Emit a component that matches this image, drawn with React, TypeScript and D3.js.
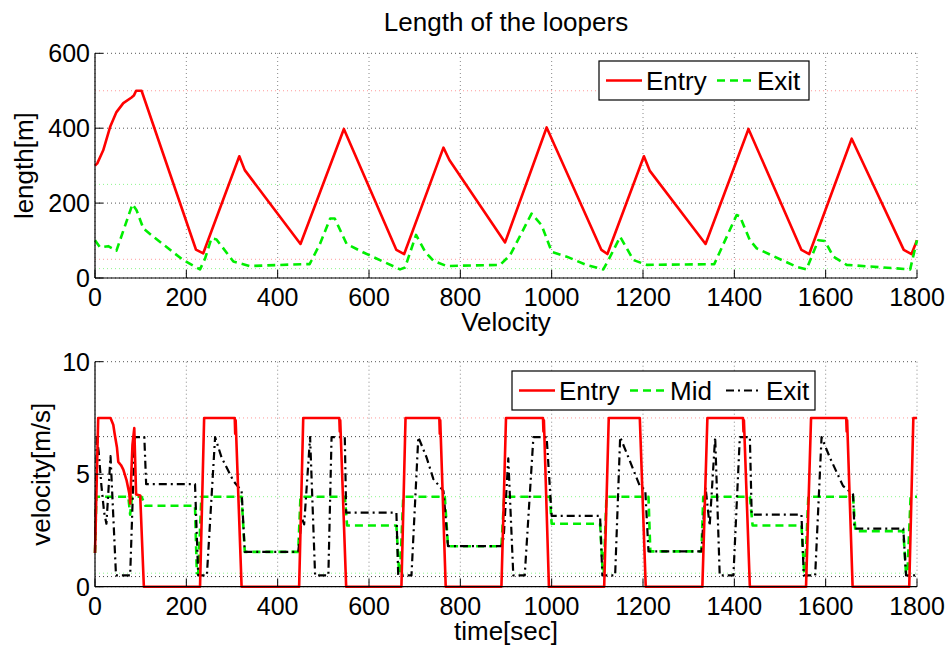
import React, { useEffect, useRef } from "react";
import * as d3 from "d3";

// top panel: looper length [m] vs time
const lenEntry: [number, number][] = [
  [0, 300], [5, 306], [18, 341], [33, 403], [47, 443], [62, 467], [80, 482], [85, 487],
  [90, 500], [102, 500], [221, 76], [237, 66], [316, 325], [328, 288], [450, 91],
  [545, 398], [660, 75], [677, 64], [763, 348], [776, 315], [898, 95], [989, 402],
  [1109, 75], [1122, 64], [1202, 325], [1215, 286], [1337, 91], [1431, 398],
  [1547, 75], [1564, 64], [1657, 372], [1771, 75], [1788, 64], [1800, 101],
];

const lenExit: [number, number][] = [
  [0, 101], [11, 82], [29, 85], [47, 73], [82, 197], [91, 181], [106, 132], [128, 110],
  [193, 48], [230, 23], [241, 52], [255, 106], [266, 103], [303, 44], [339, 32],
  [456, 37], [470, 37], [493, 92], [515, 159], [525, 159], [551, 91], [588, 68],
  [668, 23], [679, 28], [703, 115], [723, 70], [741, 46], [770, 32], [887, 35],
  [909, 61], [956, 172], [978, 141], [1000, 70], [1033, 57], [1076, 35], [1113, 23],
  [1126, 52], [1150, 110], [1179, 48], [1208, 35], [1356, 37], [1405, 168],
  [1412, 165], [1434, 101], [1449, 79], [1536, 30], [1558, 23], [1584, 101],
  [1598, 99], [1617, 57], [1646, 35], [1785, 23], [1800, 101],
];

// bottom panel: velocity [m/s] vs time
const velEntry: [number, number][] = [
  [0, 1.5], [7, 7.5], [34, 7.5], [40, 7.2], [43, 6.8], [48, 6.2], [51, 5.55], [57, 5.4],
  [62, 5.2], [69, 4.74], [75, 4.15], [77, 3.7], [82, 6.3], [86, 7.05], [90, 4.1],
  [99, 4.05], [107, 0], [230, 0], [239, 7.5], [306, 7.5], [307, 6.8], [308, 7.4],
  [321, 0], [447, 0], [456, 7.5], [535, 7.5], [536, 6.9], [537, 7.4], [550, 0],
  [671, 0], [680, 7.5], [754, 7.5], [755, 6.8], [756, 7.4], [768, 0], [890, 0],
  [900, 7.5], [981, 7.5], [982, 6.9], [983, 7.4], [994, 0], [1115, 0], [1125, 7.5],
  [1193, 7.5], [1206, 0], [1330, 0], [1341, 7.5], [1419, 7.5], [1420, 6.9],
  [1421, 7.4], [1434, 0], [1557, 0], [1568, 7.5], [1645, 7.5], [1646, 6.9],
  [1647, 7.4], [1659, 0], [1783, 0], [1792, 7.5], [1800, 7.5],
];

const velMid: [number, number][] = [
  [0, 1.5], [3, 4], [73, 4], [77, 3.2], [81, 4], [102, 4], [110, 3.6], [219, 3.6],
  [223, 0.6], [226, 0.6], [233, 4], [321, 4], [328, 1.55], [445, 1.55], [450, 4],
  [547, 4], [552, 2.72], [660, 2.72], [666, 0.6], [668, 0.6], [675, 4], [766, 4],
  [773, 1.8], [890, 1.8], [896, 4], [996, 4], [1000, 2.8], [1106, 2.8], [1112, 0.6],
  [1114, 0.6], [1120, 4], [1212, 4], [1216, 1.57], [1328, 1.57], [1332, 4], [1434, 4],
  [1440, 2.72], [1547, 2.72], [1553, 0.6], [1555, 0.6], [1562, 4], [1660, 4],
  [1665, 2.47], [1770, 2.47], [1776, 0.6], [1779, 0.6], [1786, 4], [1800, 4],
];

const velExit: [number, number][] = [
  [0, 1.5], [4, 6.65], [8, 6.0], [14, 4.5], [20, 3.3], [25, 2.8], [34, 5.8], [46, 0.5],
  [77, 0.5], [87, 6.65], [108, 6.65], [112, 4.56], [219, 4.56], [226, 0.5], [245, 0.5],
  [263, 6.65], [277, 5.75], [303, 4.7], [321, 4.26], [328, 1.55], [445, 1.55],
  [453, 3.06], [458, 2.77], [471, 6.65], [482, 0.5], [511, 0.5], [518, 6.65],
  [547, 6.65], [550, 3.29], [660, 3.29], [664, 0.5], [693, 0.5], [708, 6.65],
  [726, 5.75], [741, 4.78], [763, 4.26], [773, 1.8], [890, 1.8], [895, 2.2],
  [905, 5.7], [916, 0.5], [941, 0.5], [960, 6.65], [989, 6.65], [1000, 3.15],
  [1106, 3.15], [1111, 0.5], [1139, 0.5], [1150, 6.65], [1171, 5.6], [1193, 4.48],
  [1205, 4.3], [1212, 1.57], [1328, 1.57], [1337, 4.4], [1346, 2.7], [1358, 6.65],
  [1368, 0.5], [1398, 0.5], [1412, 6.65], [1434, 6.65], [1438, 3.2], [1547, 3.2],
  [1552, 0.5], [1577, 0.5], [1591, 6.65], [1609, 5.75], [1638, 4.48], [1660, 4.1],
  [1663, 2.58], [1770, 2.58], [1776, 0.5], [1800, 0.5],
];

const xTicks = [0, 200, 400, 600, 800, 1000, 1200, 1400, 1600, 1800];
const lenTicks = [0, 200, 400, 600];
const velTicks = [0, 5, 10];

// limit lines
const lenEntryLimits = [500, 50];
const lenExitLimits = [250, 25];
const velEntryLimits = [7.5];
const velMidLimits = [4, 0.6];
const velExitLimits = [6.67, 0.45];

const FONT = "'Liberation Sans', Arial, Helvetica, sans-serif";
const RED = "#ff0000";
const GREEN = "#00ee00";
const BLACK = "#000000";

export default function App() {
  const svgRef = useRef<SVGSVGElement>(null);

  useEffect(() => {
    const svg = d3.select(svgRef.current);
    svg.selectAll("*").remove();

    const left = 95;
    const right = 917;
    const x = d3.scaleLinear().domain([0, 1800]).range([left, right]);

    svg.append("rect").attr("width", 951).attr("height", 650).attr("fill", "white");

    function panel(opts: any) {
      const { y, ticks, limits, series, xLabel, yLabel, yLabelX, tickY } = opts;
      const g = svg.append("g");
      const [y0, y1] = y.range();

      // grid
      g.selectAll(".vg").data(xTicks).enter().append("line")
        .attr("x1", (d: number) => x(d)).attr("x2", (d: number) => x(d))
        .attr("y1", y0).attr("y2", y1)
        .attr("stroke", "#888").attr("stroke-width", 1).attr("stroke-dasharray", "1,3");
      g.selectAll(".hg").data(ticks).enter().append("line")
        .attr("x1", left).attr("x2", right)
        .attr("y1", (d: number) => y(d)).attr("y2", (d: number) => y(d))
        .attr("stroke", "#555").attr("stroke-width", 1).attr("stroke-dasharray", "1,3");

      // limit lines
      limits.forEach((l: any) => {
        g.selectAll(null).data(l.values).enter().append("line")
          .attr("x1", left).attr("x2", right)
          .attr("y1", (d: number) => y(d)).attr("y2", (d: number) => y(d))
          .attr("stroke", l.color).attr("stroke-width", 1).attr("stroke-dasharray", "1,3");
      });

      const line = d3.line<[number, number]>().x(d => x(d[0])).y(d => y(d[1]));
      series.forEach((s: any) => {
        g.append("path").datum(s.data)
          .attr("fill", "none").attr("stroke", s.color)
          .attr("stroke-width", s.width).attr("stroke-dasharray", s.dash)
          .attr("stroke-linejoin", "round")
          .attr("d", line);
      });

      // axes
      g.append("line").attr("x1", left).attr("x2", right).attr("y1", y0).attr("y2", y0)
        .attr("stroke", "black").attr("stroke-width", 1.2);
      g.append("line").attr("x1", left).attr("x2", left).attr("y1", y0).attr("y2", y1)
        .attr("stroke", "black").attr("stroke-width", 1.2);
      g.selectAll(".xt").data(xTicks).enter().append("line")
        .attr("x1", (d: number) => x(d)).attr("x2", (d: number) => x(d))
        .attr("y1", y0).attr("y2", y0 - 8).attr("stroke", "black");
      g.selectAll(".yt").data(ticks).enter().append("line")
        .attr("x1", left).attr("x2", left + 8)
        .attr("y1", (d: number) => y(d)).attr("y2", (d: number) => y(d)).attr("stroke", "black");

      g.selectAll(".xl").data(xTicks).enter().append("text")
        .attr("x", (d: number) => x(d)).attr("y", tickY)
        .attr("text-anchor", "middle").attr("font-family", FONT).attr("font-size", 25)
        .text((d: number) => d);
      g.selectAll(".yl").data(ticks).enter().append("text")
        .attr("x", left - 5).attr("y", (d: number) => y(d) + 9)
        .attr("text-anchor", "end").attr("font-family", FONT).attr("font-size", 25)
        .text((d: number) => d);

      g.append("text").attr("x", (left + right) / 2).attr("y", xLabel.y)
        .attr("text-anchor", "middle").attr("font-family", FONT).attr("font-size", 26)
        .text(xLabel.text);
      const ymid = (y0 + y1) / 2;
      g.append("text").attr("transform", `translate(${yLabelX},${ymid}) rotate(-90)`)
        .attr("text-anchor", "middle").attr("font-family", FONT).attr("font-size", 26)
        .text(yLabel);
    }

    const yLen = d3.scaleLinear().domain([0, 600]).range([278, 53.3]);
    const yVel = d3.scaleLinear().domain([0, 10]).range([586.7, 361.7]);

    panel({
      y: yLen, ticks: lenTicks, tickY: 306,
      limits: [
        { values: lenEntryLimits, color: "#ff9a9a" },
        { values: lenExitLimits, color: "#8cf58c" },
      ],
      series: [
        { data: lenEntry, color: RED, width: 2.6, dash: null },
        { data: lenExit, color: GREEN, width: 2.6, dash: "8,5" },
      ],
      xLabel: { text: "Velocity", y: 331 },
      yLabel: "length[m]", yLabelX: 33,
    });

    panel({
      y: yVel, ticks: velTicks, tickY: 615,
      limits: [
        { values: velEntryLimits, color: "#ff9a9a" },
        { values: velMidLimits, color: "#8cf58c" },
        { values: velExitLimits, color: "#444" },
      ],
      series: [
        { data: velMid, color: GREEN, width: 2.6, dash: "8,5" },
        { data: velExit, color: BLACK, width: 2.2, dash: "8,4,2,4" },
        { data: velEntry, color: RED, width: 2.6, dash: null },
      ],
      xLabel: { text: "time[sec]", y: 640 },
      yLabel: "velocity[m/s]", yLabelX: 50,
    });

    svg.append("text").attr("x", 506).attr("y", 31)
      .attr("text-anchor", "middle").attr("font-family", FONT).attr("font-size", 26)
      .text("Length of the loopers");

    // legends
    function legend(bx: number, by: number, bw: number, bh: number, items: any[]) {
      const g = svg.append("g");
      g.append("rect").attr("x", bx).attr("y", by).attr("width", bw).attr("height", bh)
        .attr("fill", "white").attr("stroke", "black").attr("stroke-width", 1.2);
      const cy = by + bh / 2;
      items.forEach(it => {
        g.append("line").attr("x1", it.x0).attr("x2", it.x0 + 36).attr("y1", cy).attr("y2", cy)
          .attr("stroke", it.color).attr("stroke-width", it.width)
          .attr("stroke-dasharray", it.dash);
        g.append("text").attr("x", it.x0 + 40).attr("y", cy + 9.5)
          .attr("font-family", FONT).attr("font-size", 26).text(it.label);
      });
    }

    legend(599, 61, 210, 39, [
      { x0: 606, label: "Entry", color: RED, width: 2.6, dash: null },
      { x0: 717, label: "Exit", color: GREEN, width: 2.6, dash: "8,5" },
    ]);
    legend(512, 371, 303, 39, [
      { x0: 519, label: "Entry", color: RED, width: 2.6, dash: null },
      { x0: 630, label: "Mid", color: GREEN, width: 2.6, dash: "8,5" },
      { x0: 726, label: "Exit", color: BLACK, width: 2.2, dash: "8,4,2,4" },
    ]);
  }, []);

  return (
    <svg ref={svgRef} width={951} height={650}
      style={{ position: "absolute", left: 0, top: 0 }} />
  );
}
